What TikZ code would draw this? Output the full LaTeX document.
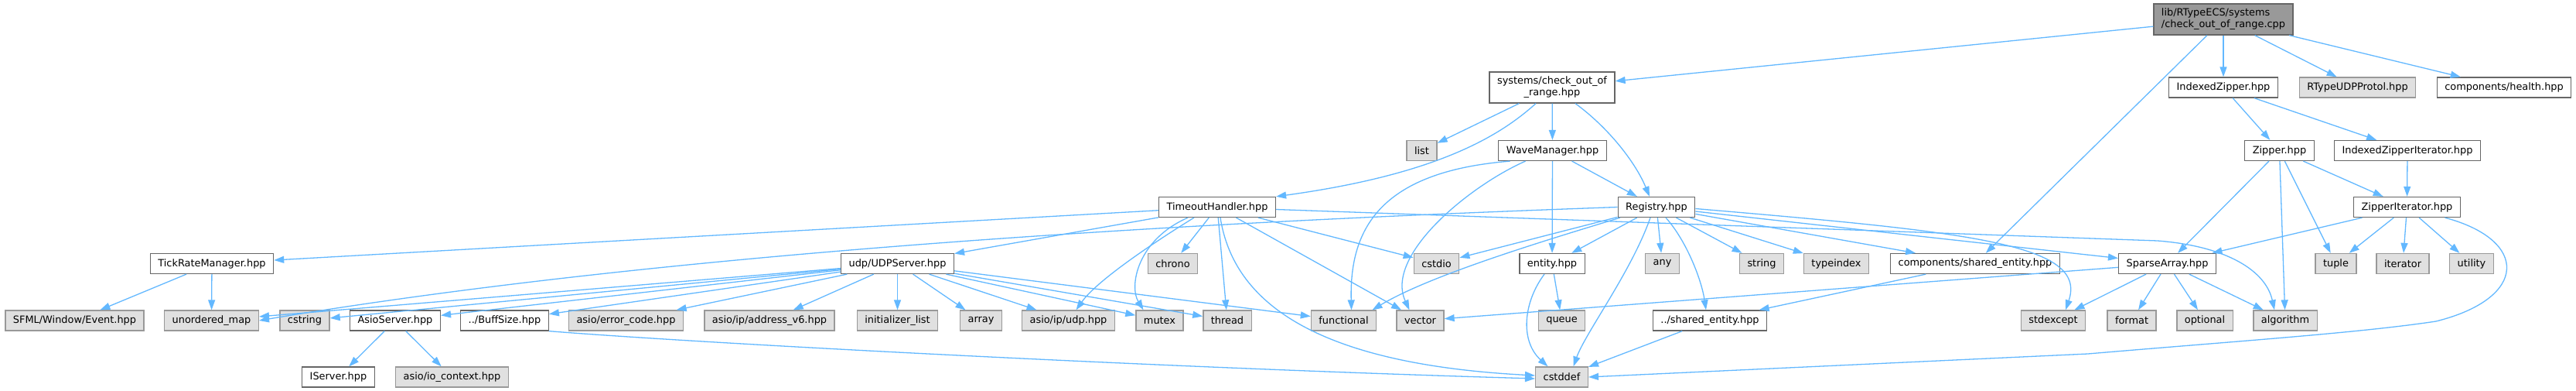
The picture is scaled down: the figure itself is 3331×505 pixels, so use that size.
\documentclass[tikz,border=0pt]{standalone}
\usepackage{fontspec}
\setmainfont{DejaVu Sans}
\usetikzlibrary{arrows.meta}
\definecolor{edgeblue}{HTML}{63B8FF}
\definecolor{grayfill}{HTML}{E0E0E0}
\definecolor{grayline}{HTML}{999999}
\definecolor{boxline}{HTML}{666666}
\definecolor{rootfill}{HTML}{999999}
\begin{document}
\begin{tikzpicture}[x=1pt,y=-1pt,
  wbox/.style={draw=boxline, fill=white, line width=1.3pt, minimum height=26pt,
    inner xsep=10pt, inner ysep=0pt, font=\fontsize{12.9}{15}\selectfont},
  gbox/.style={wbox, draw=grayline, fill=grayfill},
  rbox/.style={wbox, fill=rootfill, minimum height=40pt, align=left},
  tbox/.style={wbox, minimum height=40pt, align=center},
  dep/.style={draw=edgeblue, line width=1.3pt, -{Triangle[length=13pt,width=9pt]}}]
\useasboundingbox (0,0) rectangle (3331,505);
% row 0
\node[rbox] (root) at (2875,25) {lib/RTypeECS/systems\\/check\_out\_of\_range.cpp};
% row 1
\node[tbox] (cor) at (2007,113) {systems/check\_out\_of\\\_range.hpp};
\node[wbox] (iz) at (2875,113) {IndexedZipper.hpp};
\node[gbox] (rtp) at (3048.5,113) {RTypeUDPProtol.hpp};
\node[wbox] (health) at (3238,113) {components/health.hpp};
% row 2
\node[gbox] (list) at (1838.5,194.5) {list};
\node[wbox] (wm) at (2007.5,194.5) {WaveManager.hpp};
\node[wbox] (zipper) at (2947.5,194.5) {Zipper.hpp};
\node[wbox] (izi) at (3113,194.5) {IndexedZipperIterator.hpp};
% row 3
\node[wbox] (th) at (1574,267.5) {TimeoutHandler.hpp};
\node[wbox] (reg) at (2142,267.5) {Registry.hpp};
\node[wbox] (zi) at (3112.5,267.5) {ZipperIterator.hpp};
% row 4
\node[wbox] (trm) at (274,340.5) {TickRateManager.hpp};
\node[wbox] (udp) at (1160.5,340.5) {udp/UDPServer.hpp};
\node[gbox] (chrono) at (1516.5,340.5) {chrono};
\node[gbox] (cstdio) at (1857.5,340.5) {cstdio};
\node[wbox] (entity) at (2007,340.5) {entity.hpp};
\node[gbox] (anyn) at (2149.5,340.5) {any};
\node[gbox] (stringn) at (2278,340.5) {string};
\node[gbox] (typeindex) at (2374.5,340.5) {typeindex};
\node[wbox] (cse) at (2554,340.5) {components/shared\_entity.hpp};
\node[wbox] (sa) at (2802.5,340.5) {SparseArray.hpp};
\node[gbox] (tuple) at (3020.5,340.5) {tuple};
\node[gbox] (iterator) at (3107,340.5) {iterator};
\node[gbox] (utility) at (3196,340.5) {utility};
% row 5
\node[gbox] (sfml) at (96.5,414) {SFML/Window/Event.hpp};
\node[gbox] (umap) at (273.5,414) {unordered\_map};
\node[gbox] (cstring) at (394,414) {cstring};
\node[wbox] (asio) at (511,414) {AsioServer.hpp};
\node[wbox] (buff) at (652.5,414) {../BuffSize.hpp};
\node[gbox] (errc) at (809.5,414) {asio/error\_code.hpp};
\node[gbox] (addr6) at (995,414) {asio/ip/address\_v6.hpp};
\node[gbox] (initl) at (1160.5,414) {initializer\_list};
\node[gbox] (arrayn) at (1268.5,414) {array};
\node[gbox] (asioudp) at (1381.5,414) {asio/ip/udp.hpp};
\node[gbox] (mutex) at (1499.5,414) {mutex};
\node[gbox] (thread) at (1587,414) {thread};
\node[gbox] (functional) at (1737.5,414) {functional};
\node[gbox] (vector) at (1836.5,414) {vector};
\node[gbox] (queue) at (2019.5,414) {queue};
\node[wbox] (se) at (2211,414) {../shared\_entity.hpp};
\node[gbox] (stdexcept) at (2655,414) {stdexcept};
\node[gbox] (formatn) at (2756.5,414) {format};
\node[gbox] (optional) at (2851,414) {optional};
\node[gbox] (algorithm) at (2955,414) {algorithm};
% row 6
\node[wbox] (iserver) at (437.5,487) {IServer.hpp};
\node[gbox] (ioctx) at (584.5,487) {asio/io\_context.hpp};
\node[gbox] (cstddef) at (2019.5,487) {cstddef};

% root
\draw[dep] (root) -- (cor);
\draw[dep] (root) -- (cse);
\draw[dep] (root) -- (iz);
\draw[dep] (root) -- (rtp);
\draw[dep] (root) -- (health);
% check_out_of_range.hpp
\draw[dep] (cor) -- (list);
\draw[dep] ([xshift=-21pt]cor.south) .. controls (1940,175) and (1860,225) .. (th.north east);
\draw[dep] (cor) -- (wm);
\draw[dep] ([xshift=30pt]cor.south) .. controls (2080,165) and (2115,210) .. ([xshift=-9pt]reg.north);
% WaveManager
\draw[dep] ([xshift=-55pt]wm.south) .. controls (1780,222) and (1745,300) .. ([xshift=10pt]functional.north);
\draw[dep] ([xshift=-35pt]wm.south) .. controls (1900,240) and (1790,330) .. ([xshift=-14pt]vector.north);
\draw[dep] (wm) -- (entity);
\draw[dep] (wm) -- (reg);
% TimeoutHandler
\draw[dep] (th) -- (trm);
\draw[dep] (th) -- (udp);
\draw[dep] (th) -- (chrono);
\draw[dep] ([xshift=-30pt]th.south) .. controls (1505,305) and (1420,360) .. ([xshift=10pt]asioudp.north);
\draw[dep] ([xshift=-38pt]th.south) .. controls (1470,310) and (1460,370) .. ([xshift=-21pt]mutex.north);
\draw[dep] (th) -- (thread);
\draw[dep] ([xshift=4pt]th.south) .. controls (1595,390) and (1700,470) .. ([yshift=2pt]cstddef.west);
\draw[dep] (th) -- (vector);
\draw[dep] (th) -- (cstdio);
\draw[dep] ([yshift=-3pt]th.east) -- (2790,311) .. controls (2880,318) and (2930,350) .. ([xshift=-14pt]algorithm.north);
% Registry
\draw[dep] (reg.west) .. controls (1600,285) and (900,320) .. (umap.east);
\draw[dep] (reg) -- (cstdio);
\draw[dep] ([xshift=-47pt]reg.south) .. controls (2000,310) and (1850,355) .. ([xshift=37pt]functional.north);
\draw[dep] (reg) -- (entity);
\draw[dep] (reg) -- (anyn);
\draw[dep] ([xshift=-8pt]reg.south) .. controls (2110,350) and (2050,430) .. ([xshift=15pt]cstddef.north);
\draw[dep] (reg) -- (stringn);
\draw[dep] (reg) -- (typeindex);
\draw[dep] (reg) -- (cse);
\draw[dep] ([xshift=12pt]reg.south) .. controls (2180,310) and (2200,360) .. ([xshift=-5pt]se.north);
\draw[dep] (reg) -- (sa);
\draw[dep] ([yshift=-2pt]reg.east) .. controls (2550,300) and (2700,315) .. ([xshift=16pt]stdexcept.north);
% entity
\draw[dep] (entity) -- (queue);
\draw[dep] ([xshift=-10pt]entity.south) .. controls (1970,390) and (1965,440) .. ([xshift=-18pt]cstddef.north);
% shared entity
\draw[dep] (cse) -- (se);
\draw[dep] (se) -- (cstddef);
% SparseArray
\draw[dep] (sa) -- (vector);
\draw[dep] (sa) -- (stdexcept);
\draw[dep] (sa) -- (formatn);
\draw[dep] (sa) -- (optional);
\draw[dep] (sa) -- (algorithm);
% ZipperIterator
\draw[dep] (zi) -- (sa);
\draw[dep] (zi) -- (tuple);
\draw[dep] (zi) -- (iterator);
\draw[dep] (zi) -- (utility);
\draw[dep] ([xshift=49pt]zi.south) .. controls (3270,310) and (3270,385) .. (3150,415) .. controls (3050,430) and (2900,440) .. (2700,457) -- (cstddef.east);
% Zipper
\draw[dep] (zipper) -- (sa);
\draw[dep] (zipper) -- (algorithm);
\draw[dep] (zipper) -- (tuple);
\draw[dep] (zipper) -- (zi);
% IndexedZipperIterator / IndexedZipper
\draw[dep] (izi) -- (zi);
\draw[dep] (iz) -- (zipper);
\draw[dep] (iz) -- (izi);
% UDPServer
\draw[dep] (udp) -- (umap);
\draw[dep] (udp) -- (cstring);
\draw[dep] (udp) -- (asio);
\draw[dep] (udp) -- (buff);
\draw[dep] (udp) -- (errc);
\draw[dep] (udp) -- (addr6);
\draw[dep] (udp) -- (initl);
\draw[dep] (udp) -- (arrayn);
\draw[dep] (udp) -- (asioudp);
\draw[dep] (udp) -- (mutex);
\draw[dep] (udp) -- (thread);
\draw[dep] (udp) -- (functional);
% TickRateManager
\draw[dep] (trm) -- (sfml);
\draw[dep] (trm) -- (umap);
% AsioServer
\draw[dep] (asio) -- (iserver);
\draw[dep] (asio) -- (ioctx);
% BuffSize
\draw[dep] (buff.south east) .. controls (900,443) and (1500,475) .. ([yshift=-2pt]cstddef.west);
\end{tikzpicture}
\end{document}
